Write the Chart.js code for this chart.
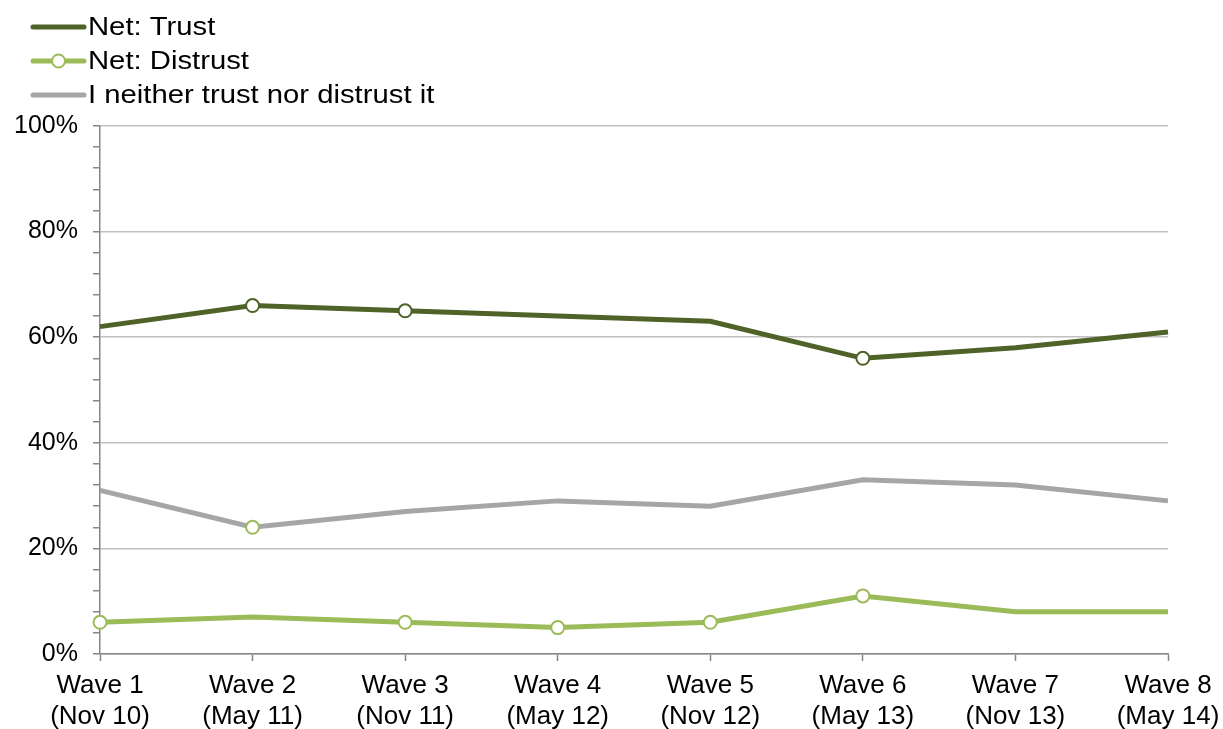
<!DOCTYPE html>
<html>
<head>
<meta charset="utf-8">
<script src="https://cdn.jsdelivr.net/npm/chart.js@4/dist/chart.umd.min.js"></script>
<style>
  html, body { margin: 0; padding: 0; background: #fff; }
  #wrap { width: 1223px; height: 729px; }
</style>
</head>
<body>
<div id="wrap"><canvas id="trustChart"></canvas></div>
<script>
// Waves of the survey (two-line labels)
const waves = [
  ["Wave 1", "(Nov 10)"], ["Wave 2", "(May 11)"], ["Wave 3", "(Nov 11)"], ["Wave 4", "(May 12)"],
  ["Wave 5", "(Nov 12)"], ["Wave 6", "(May 13)"], ["Wave 7", "(Nov 13)"], ["Wave 8", "(May 14)"]
];

// Share of respondents, in %
const netTrust = [62, 66, 65, 64, 63, 56, 58, 61];
const netDistrust = [6, 7, 6, 5, 6, 11, 8, 8];
const neither = [31, 24, 27, 29, 28, 33, 32, 29];

// Which waves carry a marker on each line
const trustMarks = [0, 1, 1, 0, 0, 1, 0, 0];
const distrustMarks = [1, 0, 1, 1, 1, 1, 0, 0];
const neitherMarks = [0, 1, 0, 0, 0, 0, 0, 0];

const yTicks = [0, 20, 40, 60, 80, 100];

const darkGreen = "#4f6228";
const lightGreen = "#9bbb59";
const grey = "#a6a6a6";
const fontFamily = "'Liberation Sans', Arial, sans-serif";

function radii(marks) {
  return marks.map(m => (m ? 6.5 : 0));
}

// legend stacked in the top-left corner
const stackedLegend = {
  id: "stackedLegend",
  afterDraw(chart) {
    const ctx = chart.ctx;
    chart.data.datasets.forEach((ds, i) => {
      const y = 27 + i * 34;
      ctx.save();
      ctx.strokeStyle = ds.borderColor;
      ctx.lineWidth = 5;
      ctx.lineCap = "round";
      ctx.beginPath();
      ctx.moveTo(33, y);
      ctx.lineTo(84, y);
      ctx.stroke();
      if (ds.legendMarker) {
        ctx.beginPath();
        ctx.arc(58.5, y, 6.5, 0, Math.PI * 2);
        ctx.fillStyle = "#fff";
        ctx.fill();
        ctx.lineWidth = 2;
        ctx.stroke();
      }
      // legend text is a little wider than the axis text
      ctx.translate(88, y + 1);
      ctx.scale(1.17, 1);
      ctx.font = "25px " + fontFamily;
      ctx.textBaseline = "middle";
      ctx.fillStyle = "#000";
      ctx.fillText(ds.label, 0, 0);
      ctx.restore();
    });
  }
};

new Chart("trustChart", {
  type: "line",
  data: {
    labels: waves,
    datasets: [
      {
        label: "Net: Trust",
        data: netTrust,
        borderColor: darkGreen,
        borderWidth: 5,
        pointRadius: radii(trustMarks),
        pointBackgroundColor: "#fff",
        pointBorderColor: darkGreen,
        pointBorderWidth: 2,
        tension: 0
      },
      {
        label: "Net: Distrust",
        data: netDistrust,
        borderColor: lightGreen,
        borderWidth: 5,
        pointRadius: radii(distrustMarks),
        pointBackgroundColor: "#fff",
        pointBorderColor: lightGreen,
        pointBorderWidth: 2,
        legendMarker: true,
        tension: 0
      },
      {
        label: "I neither trust nor distrust it",
        data: neither,
        borderColor: grey,
        borderWidth: 5,
        pointRadius: radii(neitherMarks),
        pointBackgroundColor: "#fff",
        pointBorderColor: lightGreen,
        pointBorderWidth: 2,
        tension: 0
      }
    ]
  },
  options: {
    responsive: true,
    maintainAspectRatio: false,
    animation: false,
    layout: { padding: { top: 126, right: 55, bottom: 0, left: 0 } },
    plugins: {
      legend: { display: false },
      tooltip: { enabled: false }
    },
    scales: {
      x: {
        type: "category",
        offset: false,
        border: { color: "#868686", width: 1.5 },
        grid: {
          drawOnChartArea: false,
          drawTicks: true,
          tickLength: 7,
          tickColor: "#868686",
          tickWidth: 1.5
        },
        ticks: {
          color: "#000",
          padding: 9,
          maxRotation: 0,
          autoSkip: false,
          font: { family: fontFamily, size: 26, lineHeight: 1.19 }
        },
        afterFit(scale) {
          scale.height = 75;
          // let the last label run into the right margin
          scale.paddingRight = 50;
        }
      },
      y: {
        min: 0,
        max: 100,
        border: { color: "#868686", width: 1.5 },
        grid: {
          color: ctx => (yTicks.includes(ctx.tick.value) ? "#c0c0c0" : "rgba(0,0,0,0)"),
          lineWidth: 1.5,
          drawTicks: true,
          tickLength: 7,
          tickColor: "#868686",
          tickWidth: 1.5
        },
        ticks: {
          stepSize: 4,
          autoSkip: false,
          color: "#000",
          padding: 15,
          font: { family: fontFamily, size: 25 },
          callback: v => (yTicks.includes(v) ? v + "%" : "")
        },
        afterFit(scale) { scale.width = 100; }
      }
    }
  },
  plugins: [stackedLegend]
});
</script>
</body>
</html>
